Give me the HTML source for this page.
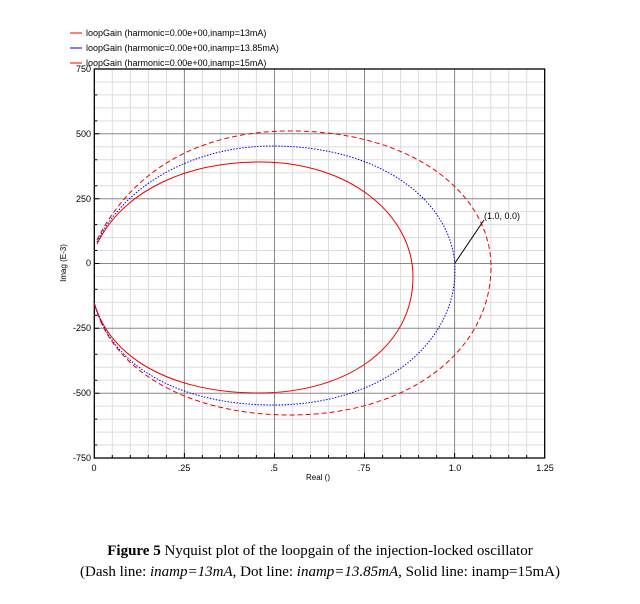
<!DOCTYPE html>
<html><head><style>body{margin:0;background:#fff;width:640px;height:599px;overflow:hidden}</style></head><body>
<svg width="640" height="599" xmlns="http://www.w3.org/2000/svg" font-family="Liberation Sans, sans-serif">
<path stroke="#ddd" stroke-width="1" fill="none" d="M112.3,69V458M130.3,69V458M148.3,69V458M166.4,69V458M202.4,69V458M220.4,69V458M238.4,69V458M256.4,69V458M292.5,69V458M310.5,69V458M328.5,69V458M346.5,69V458M382.6,69V458M400.6,69V458M418.6,69V458M436.6,69V458M472.6,69V458M490.7,69V458M508.7,69V458M526.7,69V458
M94.3,82H544.7M94.3,94.9H544.7M94.3,107.9H544.7M94.3,120.9H544.7M94.3,146.8H544.7M94.3,159.8H544.7M94.3,172.7H544.7M94.3,185.7H544.7M94.3,211.6H544.7M94.3,224.6H544.7M94.3,237.6H544.7M94.3,250.5H544.7M94.3,276.5H544.7M94.3,289.4H544.7M94.3,302.4H544.7M94.3,315.4H544.7M94.3,341.3H544.7M94.3,354.3H544.7M94.3,367.2H544.7M94.3,380.2H544.7M94.3,406.1H544.7M94.3,419.1H544.7M94.3,432.1H544.7M94.3,445H544.7"/>
<path stroke="#888" stroke-width="1" fill="none" d="M184.4,69V458M274.5,69V458M364.5,69V458M454.6,69V458M94.3,133.8H544.7M94.3,198.7H544.7M94.3,263.5H544.7M94.3,328.3H544.7M94.3,393.2H544.7"/>
<path stroke="#000" stroke-width="1" fill="none" d="M112.3,458v-3M130.3,458v-3M148.3,458v-3M166.4,458v-3M184.4,458v-5M202.4,458v-3M220.4,458v-3M238.4,458v-3M256.4,458v-3M274.5,458v-5M292.5,458v-3M310.5,458v-3M328.5,458v-3M346.5,458v-3M364.5,458v-5M382.6,458v-3M400.6,458v-3M418.6,458v-3M436.6,458v-3M454.6,458v-5M472.6,458v-3M490.7,458v-3M508.7,458v-3M526.7,458v-3
M94.3,94.9h3M94.3,120.9h3M94.3,133.8h5M94.3,159.8h3M94.3,185.7h3M94.3,198.7h5M94.3,224.6h3M94.3,250.5h3M94.3,263.5h5M94.3,289.4h3M94.3,315.4h3M94.3,328.3h5M94.3,354.3h3M94.3,380.2h3M94.3,393.2h5M94.3,419.1h3M94.3,445h3"/>
<rect x="94.3" y="69" width="450.4" height="389" fill="none" stroke="#000" stroke-width="1.3"/>
<g font-size="9" text-anchor="end">
<text x="91" y="72">750</text><text x="91" y="137">500</text><text x="91" y="202">250</text><text x="91" y="266">0</text>
<text x="91" y="331">-250</text><text x="91" y="396">-500</text><text x="91" y="461">-750</text></g>
<g font-size="9" text-anchor="middle">
<text x="94" y="471">0</text><text x="184" y="471">.25</text><text x="274" y="471">.5</text><text x="364" y="471">.75</text><text x="455" y="471">1.0</text><text x="545" y="471">1.25</text>
<text x="318" y="480" font-size="8">Real ()</text>
<text transform="translate(66,263) rotate(-90)" font-size="8">Imag (E-3)</text></g>
<path d="M97,244 C125,188 190,162 260,162 C350,162 413,215 413,277 C413,345 350,393 258,393 C175,393 110,360 94,302" fill="none" stroke="#e00" stroke-width="1"/>
<path d="M97,242 C128,180 200,146 272,146 C385,146 455,205 455,270 C455,345 380,405 273,405 C185,405 112,370 94,302" fill="none" stroke="#00e" stroke-width="1" stroke-dasharray="1.5,1.5"/>
<path d="M97,240 C132,170 200,131 290,131 C415,131 491,195 491,267 C491,350 410,415 290,415 C195,415 112,375 94,302" fill="none" stroke="#e00" stroke-width="1" stroke-dasharray="5,3"/>
<line x1="455" y1="263" x2="484" y2="220" stroke="#000"/>
<text x="484" y="219" font-size="9">(1.0, 0.0)</text>
<g font-size="9">
<line x1="70" y1="33" x2="82" y2="33" stroke="#e00"/><text x="86" y="36">loopGain (harmonic=0.00e+00,inamp=13mA)</text>
<line x1="70" y1="48" x2="82" y2="48" stroke="#00e"/><text x="86" y="51">loopGain (harmonic=0.00e+00,inamp=13.85mA)</text>
<line x1="70" y1="63" x2="82" y2="63" stroke="#e00"/><text x="86" y="66">loopGain (harmonic=0.00e+00,inamp=15mA)</text></g>
<g font-family="Liberation Serif, serif" font-size="15" text-anchor="middle">
<text x="320" y="555"><tspan font-weight="bold">Figure 5</tspan> Nyquist plot of the loopgain of the injection-locked oscillator</text>
<text x="320" y="576">(Dash line: <tspan font-style="italic">inamp=13mA</tspan>, Dot line: <tspan font-style="italic">inamp=13.85mA</tspan>, Solid line: inamp=15mA)</text></g>
</svg>
</body></html>
